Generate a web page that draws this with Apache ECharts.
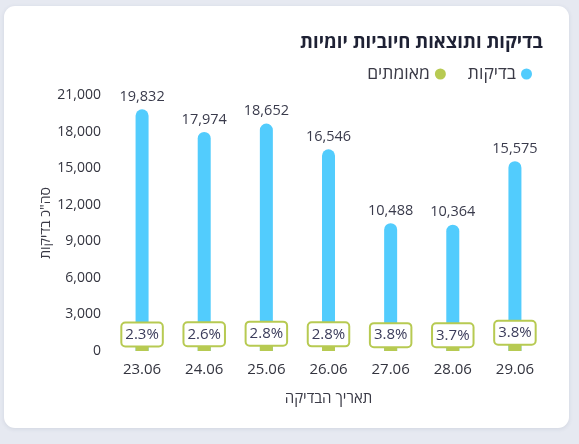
<!DOCTYPE html>
<html lang="he">
<head>
<meta charset="utf-8">
<script src="https://cdn.jsdelivr.net/npm/echarts@6/dist/echarts.min.js"></script>
<style>
  html, body { margin: 0; padding: 0; background: #e6e9f1; }
  #card {
    position: absolute; left: 4px; top: 6px; width: 565px; height: 422px;
    background: #fff; border-radius: 11px;
    box-shadow: 0 1px 4px rgba(60, 70, 110, 0.12);
  }
  #chart { position: absolute; left: 0; top: 0; width: 579px; height: 444px; }
</style>
</head>
<body>
<div id="card"></div>
<div id="chart"></div>
<script>
// Daily tests & positive results
const dates = ['23.06', '24.06', '25.06', '26.06', '27.06', '28.06', '29.06'];
const tests = [19832, 17974, 18652, 16546, 10488, 10364, 15575];
const positives = [456, 467, 522, 463, 399, 383, 592];
const yTicks = [0, 3000, 6000, 9000, 12000, 15000, 18000, 21000];

const FONT = "'Open Sans', 'Noto Sans', sans-serif";
const BLUE = '#52ccfd';
const GREEN = '#b7ca52';

const chart = echarts.init(document.getElementById('chart'), null, { renderer: 'canvas' });

const option = {
    backgroundColor: 'transparent',
    textStyle: { fontFamily: FONT },
    title: {
        text: 'בדיקות ותוצאות חיוביות יומיות',
        right: 31,
        top: 28,
        textStyle: { fontFamily: FONT, fontSize: 18.5, fontWeight: 'bold', color: '#1e2134' }
    },
    legend: {
        data: ['מאומתים', 'בדיקות'],
        right: 42,
        top: 60,
        align: 'right',
        icon: 'circle',
        itemWidth: 11,
        itemHeight: 11,
        itemGap: 22,
        textStyle: { fontFamily: FONT, fontSize: 17.5, color: '#3a3a46' }
    },
    grid: { left: 111, right: 33, top: 95, bottom: 93, containLabel: false },
    xAxis: {
        type: 'category',
        data: dates,
        name: 'תאריך הבדיקה',
        nameLocation: 'middle',
        nameGap: 40,
        nameMoveOverlap: false,
        nameTextStyle: { fontFamily: FONT, fontSize: 15, color: '#3a3a46' },
        axisLine: { show: false },
        axisTick: { show: false },
        axisLabel: { fontSize: 15, color: '#33343f', margin: 11 }
    },
    yAxis: {
        type: 'value',
        min: yTicks[0],
        max: yTicks[yTicks.length - 1],
        interval: yTicks[1] - yTicks[0],
        name: 'סה"כ בדיקות',
        nameLocation: 'middle',
        nameGap: 58,
        nameRotate: 90,
        nameMoveOverlap: false,
        nameTextStyle: { fontFamily: FONT, fontSize: 14, color: '#3a3a46' },
        axisLine: { show: false },
        axisTick: { show: false },
        splitLine: { show: false },
        axisLabel: {
            fontSize: 14, color: '#33343f', margin: 10,
            formatter: v => v.toLocaleString('en-US')
        }
    },
    series: [
        {
            name: 'בדיקות',
            type: 'bar',
            data: tests,
            barWidth: 13,
            barGap: '-100%',
            itemStyle: { color: BLUE, borderRadius: [7, 7, 0, 0] },
            label: {
                show: true,
                position: 'top',
                distance: 5,
                fontSize: 14.5,
                color: '#3a3b4c',
                formatter: p => p.value.toLocaleString('en-US')
            },
            z: 2
        },
        {
            name: 'מאומתים',
            type: 'bar',
            data: positives,
            barWidth: 13,
            itemStyle: { color: GREEN },
            label: {
                show: true,
                position: 'top',
                distance: 0,
                fontSize: 15,
                lineHeight: 18,
                color: '#3a3b5a',
                backgroundColor: '#fff',
                borderColor: GREEN,
                borderWidth: 2,
                borderRadius: 3,
                padding: [2, 3, 2, 3],
                formatter: p => (positives[p.dataIndex] / tests[p.dataIndex] * 100).toFixed(1) + '%'
            },
            z: 3
        }
    ]
};

chart.setOption(option);
</script>
</body>
</html>
